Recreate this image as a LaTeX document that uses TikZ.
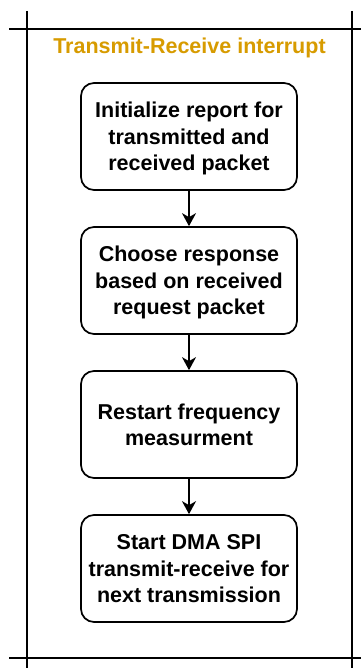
\documentclass[tikz,border=0pt]{standalone}
\usepackage{fontspec}
\setmainfont{Liberation Sans}
\usetikzlibrary{arrows.meta}
\definecolor{titleorange}{HTML}{D79B00}
\begin{document}
\begin{tikzpicture}[x=1pt,y=-1pt,
  stepbox/.style={draw=black,line width=1.7pt,rounded corners=13pt,minimum width=216pt,minimum height=107pt,align=center,inner sep=0pt,text depth=0pt,font=\bfseries\fontsize{21.5}{26.5}\selectfont},
  frameline/.style={line width=1.7pt},
  flow/.style={line width=1.7pt,-{Stealth[length=13pt,width=14pt,inset=4pt]}}]
\useasboundingbox (0,0) rectangle (361,668);
\coordinate (tl) at (9,29);
\coordinate (tr) at (361,29);
\coordinate (bl) at (9,658);
\coordinate (br) at (361,658);
\coordinate (lt) at (27,11);
\coordinate (lb) at (27,668);
\coordinate (rt) at (352,11);
\coordinate (rb) at (352,668);
\draw[frameline] (tl) -- (tr);
\draw[frameline] (bl) -- (br);
\draw[frameline] (lt) -- (lb);
\draw[frameline] (rt) -- (rb);
\node[font=\bfseries\fontsize{21.5}{26}\selectfont,text=titleorange] (title) at (189.5,48) {Transmit-Receive interrupt};
\node[stepbox] (b1) at (189,136.5) {Initialize report for\\transmitted and\\received packet};
\node[stepbox] (b2) at (189,280.5) {Choose response\\based on received\\request packet};
\node[stepbox] (b3) at (189,424.5) {Restart frequency\\measurment};
\node[stepbox] (b4) at (189,568.5) {Start DMA SPI\\transmit-receive for\\next transmission};
\draw[flow] (b1) -- (b2);
\draw[flow] (b2) -- (b3);
\draw[flow] (b3) -- (b4);
\end{tikzpicture}
\end{document}
